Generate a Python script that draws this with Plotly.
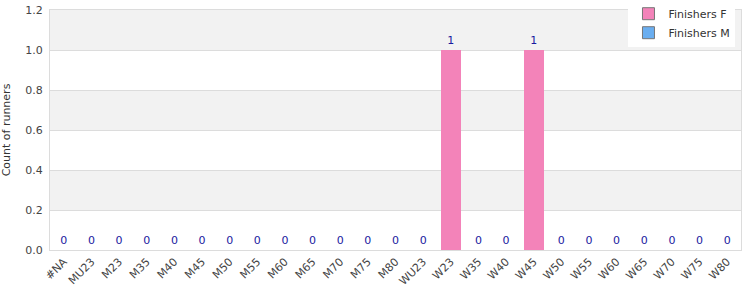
import plotly.graph_objects as go

categories = ["#NA", "MU23", "M23", "M35", "M40", "M45", "M50", "M55", "M60", "M65",
              "M70", "M75", "M80", "WU23", "W23", "W35", "W40", "W45", "W50", "W55",
              "W60", "W65", "W70", "W75", "W80"]
finishers_f = [0, 0, 0, 0, 0, 0, 0, 0, 0, 0, 0, 0, 0, 0, 1, 0, 0, 1, 0, 0, 0, 0, 0, 0, 0]
finishers_m = [0] * 25
totals = [f + m for f, m in zip(finishers_f, finishers_m)]

color_f = "#f383b9"
color_m = "#6aaef0"

fig = go.Figure()
fig.add_trace(go.Bar(x=categories, y=finishers_f, name="Finishers F", showlegend=False,
                     marker=dict(color=color_f, line=dict(width=0)),
                     text=[str(t) for t in totals], textposition="outside",
                     textfont=dict(color="#1a1aa0", size=11), cliponaxis=False,
                     width=0.72))
fig.add_trace(go.Bar(x=categories, y=finishers_m, name="Finishers M", showlegend=False,
                     marker=dict(color=color_m, line=dict(width=0)), width=0.72))
# legend entries with grey outlined swatches
for nm, col in [("Finishers F", color_f), ("Finishers M", color_m)]:
    fig.add_trace(go.Bar(x=[None], y=[None], name=nm,
                         marker=dict(color=col, line=dict(color="#777", width=1))))

bands = [(0.2, 0.4), (0.6, 0.8), (1.0, 1.2)]
shapes = [dict(type="rect", xref="paper", yref="y", x0=0, x1=1, y0=a, y1=b,
               fillcolor="#f2f2f2", line=dict(width=0), layer="below") for a, b in bands]

fig.update_layout(
    width=750, height=300, barmode="stack",
    margin=dict(l=50, r=9, t=10, b=50, autoexpand=False),
    paper_bgcolor="white", plot_bgcolor="white",
    font=dict(family="DejaVu Sans", size=11, color="#444"),
    shapes=shapes, showlegend=True,
    legend=dict(x=0.992, y=1.045, xanchor="right", yanchor="top", bgcolor="white",
                font=dict(size=11, color="#333"), traceorder="normal",
                tracegroupgap=0),
)
fig.update_xaxes(tickangle=-45, showgrid=False, showline=True, linecolor="#dcdcdc",
                 mirror=True, tickfont=dict(size=11, color="#444"), ticks="")
fig.update_yaxes(range=[0, 1.2], dtick=0.2, tickformat=".1f", showgrid=True,
                 gridcolor="#dcdcdc", showline=True, linecolor="#dcdcdc", mirror=True,
                 zeroline=False, ticklabelstandoff=4,
                 title=dict(text="Count of runners", font=dict(size=11, color="#333"), standoff=14),
                 tickfont=dict(size=11, color="#444"))

fig.write_html("out.html")
